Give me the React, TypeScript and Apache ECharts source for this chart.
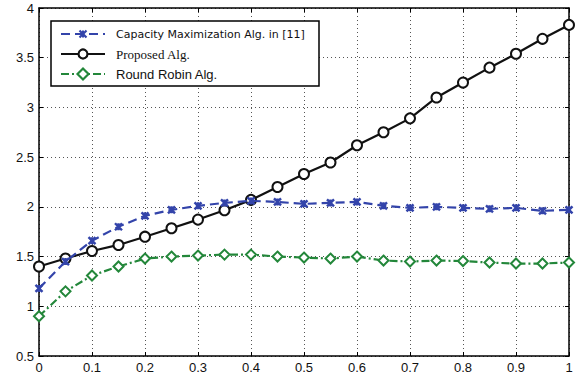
import React, { useEffect, useRef } from "react";
import * as echarts from "echarts";

const xValues = [0, 0.05, 0.1, 0.15, 0.2, 0.25, 0.3, 0.35, 0.4, 0.45, 0.5, 0.55, 0.6, 0.65, 0.7, 0.75, 0.8, 0.85, 0.9, 0.95, 1];
const capacity = [1.18, 1.45, 1.66, 1.8, 1.91, 1.97, 2.01, 2.04, 2.06, 2.05, 2.03, 2.04, 2.05, 2.01, 1.99, 2.0, 1.99, 1.98, 1.99, 1.96, 1.97];
const proposed = [1.4, 1.48, 1.556, 1.617, 1.7, 1.785, 1.872, 1.966, 2.07, 2.2, 2.33, 2.446, 2.62, 2.75, 2.89, 3.1, 3.25, 3.4, 3.54, 3.69, 3.83];
const roundRobin = [0.9, 1.15, 1.31, 1.4, 1.48, 1.5, 1.51, 1.52, 1.52, 1.5, 1.49, 1.48, 1.5, 1.46, 1.45, 1.46, 1.455, 1.44, 1.43, 1.43, 1.44];
const legendNames = ["Capacity Maximization Alg. in [11]", "Proposed Alg.", "Round Robin Alg."];

const BLUE = "#3344aa";
const GREEN = "#23873a";
const BLACK = "#111111";
const CROSS = "path://M0,0L10,10M10,0L0,10M5,0L5,10";

export default function App() {
  const ref = useRef<HTMLDivElement>(null);
  useEffect(() => {
    document.body.style.margin = "0";
    const chart = echarts.init(ref.current!, null, { renderer: "svg" });
    const pair = (arr: number[]) => xValues.map((x, i) => [x, arr[i]]);
    const axisCommon = {
      type: "value" as const,
      axisLine: { show: true, onZero: false, lineStyle: { color: "#000", width: 1.5 } },
      axisTick: { show: true, inside: true, length: 4, lineStyle: { color: "#000" } },
    };
    const labelStyle = { color: "#111", fontFamily: "Liberation Sans", fontSize: 13 };
    const ly = [34, 54, 74];
    const graphic: any[] = [
      { type: "rect", shape: { x: 51, y: 21, width: 268, height: 65 }, style: { fill: "#fff", stroke: "#000", lineWidth: 1.5 }, z: 100 },
      // blue row
      { type: "line", shape: { x1: 61, y1: ly[0], x2: 105, y2: ly[0] }, style: { stroke: BLUE, lineWidth: 2.2, lineDash: [9, 5] }, z: 101 },
      { type: "line", shape: { x1: 79.5, y1: ly[0] - 3.5, x2: 86.5, y2: ly[0] + 3.5 }, style: { stroke: BLUE, lineWidth: 2.2 }, z: 102 },
      { type: "line", shape: { x1: 86.5, y1: ly[0] - 3.5, x2: 79.5, y2: ly[0] + 3.5 }, style: { stroke: BLUE, lineWidth: 2.2 }, z: 102 },
      { type: "line", shape: { x1: 83, y1: ly[0] - 3.5, x2: 83, y2: ly[0] + 3.5 }, style: { stroke: BLUE, lineWidth: 2 }, z: 102 },
      { type: "text", x: 116, y: ly[0], style: { text: legendNames[0], fill: "#111", font: "11px 'DejaVu Sans'", verticalAlign: "middle" }, z: 102 },
      // black row
      { type: "line", shape: { x1: 61, y1: ly[1], x2: 105, y2: ly[1] }, style: { stroke: BLACK, lineWidth: 2.2 }, z: 101 },
      { type: "circle", shape: { cx: 83, cy: ly[1], r: 4.5 }, style: { fill: "#fff", stroke: BLACK, lineWidth: 2.2 }, z: 102 },
      { type: "text", x: 116, y: ly[1], style: { text: legendNames[1], fill: "#111", font: "13px 'Liberation Serif'", verticalAlign: "middle" }, z: 102 },
      // green row
      { type: "line", shape: { x1: 61, y1: ly[2], x2: 105, y2: ly[2] }, style: { stroke: GREEN, lineWidth: 2.2, lineDash: [8, 3, 2, 3] }, z: 101 },
      { type: "polygon", shape: { points: [[83, ly[2] - 5.5], [88.5, ly[2]], [83, ly[2] + 5.5], [77.5, ly[2]]] }, style: { fill: "#fff", stroke: GREEN, lineWidth: 2.2 }, z: 102 },
      { type: "text", x: 116, y: ly[2], style: { text: legendNames[2], fill: "#111", font: "13px 'Liberation Sans'", verticalAlign: "middle" }, z: 102 },
    ];
    chart.setOption({
      animation: false,
      backgroundColor: "#fff",
      grid: { left: 39, right: 15, top: 8, bottom: 22, containLabel: false },
      xAxis: [
        {
          ...axisCommon,
          min: 0, max: 1, interval: 0.1, position: "bottom",
          axisLabel: { ...labelStyle, margin: 5 },
          splitLine: { show: true, lineStyle: { type: [1, 3], color: "#555", width: 1 } },
        },
        {
          ...axisCommon,
          min: 0, max: 1, interval: 0.1, position: "top",
          axisLabel: { show: false }, splitLine: { show: false },
        },
      ],
      yAxis: [
        {
          ...axisCommon,
          min: 0.5, max: 4, interval: 0.5, position: "left",
          axisLabel: { ...labelStyle, margin: 5 },
          splitLine: { show: true, lineStyle: { type: [1, 3], color: "#555", width: 1 } },
        },
        {
          ...axisCommon,
          min: 0.5, max: 4, interval: 0.5, position: "right",
          axisLabel: { show: false }, splitLine: { show: false },
        },
      ],
      series: [
        {
          name: legendNames[1], type: "line", data: pair(proposed),
          symbol: "emptyCircle", symbolSize: 10,
          lineStyle: { color: BLACK, width: 2.2 },
          itemStyle: { color: BLACK, borderColor: BLACK, borderWidth: 2.2 },
          z: 3,
        },
        {
          name: legendNames[0], type: "line", data: pair(capacity),
          symbol: CROSS, symbolSize: 7,
          lineStyle: { color: BLUE, width: 2.2, type: [9, 5] },
          itemStyle: { color: BLUE, borderColor: BLUE, borderWidth: 2.4 },
          z: 4,
        },
        {
          name: legendNames[2], type: "line", data: pair(roundRobin),
          symbol: "emptyDiamond", symbolSize: 10,
          lineStyle: { color: GREEN, width: 2.2, type: [8, 3, 2, 3] },
          itemStyle: { color: GREEN, borderColor: GREEN, borderWidth: 2.2 },
          z: 3,
        },
      ],
      graphic,
    });
    return () => chart.dispose();
  }, []);
  return <div ref={ref} style={{ position: "absolute", left: 0, top: 0, width: 584, height: 378 }} />;
}
